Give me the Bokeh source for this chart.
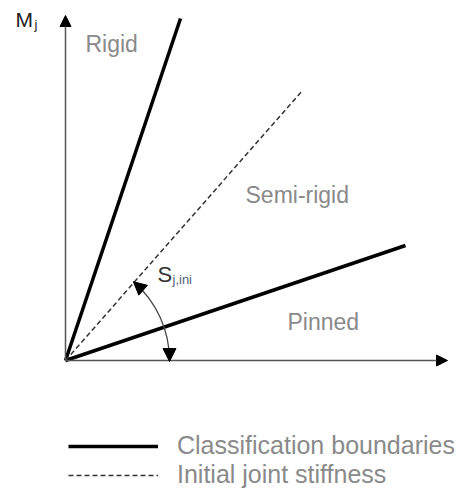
from bokeh.plotting import figure
from bokeh.models import (Arrow, NormalHead, Label, Legend, LegendItem, Range1d)
from bokeh.embed import file_html
from bokeh.resources import INLINE
import math

# ---- data (rotation phi, moment M_j) in drawing units ----
boundary_names = ["Rigid", "Pinned"]
boundary_phi = [115, 340]      # end of each classification boundary
boundary_M = [342, 115]
stiffness_phi = [0, 237]        # initial joint stiffness line
stiffness_M = [0, 270]
axis_phi_max = 382
axis_M_max = 345
arc_radius = 104
legend_labels = ["Classification boundaries", "Initial joint stiffness"]

W, H = 457, 491
p = figure(width=W, height=H, output_backend="svg", toolbar_location=None,
           x_axis_type=None, y_axis_type=None,
           x_range=Range1d(-65, -65 + W), y_range=Range1d(360 - H, 360),
           min_border=0, outline_line_color=None)
p.grid.visible = False
p.background_fill_color = "white"

FONT = "Liberation Sans"

# axes with arrowheads
p.add_layout(Arrow(x_start=0, y_start=0, x_end=0, y_end=axis_M_max,
                   line_color="#555555", line_width=1.5,
                   end=NormalHead(size=11, fill_color="black", line_color="black")))
p.add_layout(Arrow(x_start=0, y_start=0, x_end=axis_phi_max, y_end=0,
                   line_color="#555555", line_width=1.5,
                   end=NormalHead(size=11, fill_color="black", line_color="black")))

# classification boundaries
r_rigid = p.line([0, boundary_phi[0]], [0, boundary_M[0]], line_color="black", line_width=3.5)
r_pinned = p.line([0, boundary_phi[1]], [0, boundary_M[1]], line_color="black", line_width=3.5)
# initial stiffness
r_ini = p.line(stiffness_phi, stiffness_M, line_color="#333333", line_width=1.5, line_dash="5 3")

# angle arc
ang = math.atan2(stiffness_M[1], stiffness_phi[1])
p.arc(x=[0], y=[0], radius=arc_radius, start_angle=0, end_angle=ang,
      line_color="#444444", line_width=1.3)
ux, uy = arc_radius * math.cos(ang), arc_radius * math.sin(ang)
tx, ty = -math.sin(ang), math.cos(ang)
p.add_layout(Arrow(x_start=ux - tx * 10, y_start=uy - ty * 10, x_end=ux + tx * 1, y_end=uy + ty * 1,
                   line_alpha=0,
                   end=NormalHead(size=13, fill_color="black", line_color="black")))
p.add_layout(Arrow(x_start=arc_radius, y_start=12, x_end=arc_radius, y_end=-1,
                   line_alpha=0,
                   end=NormalHead(size=13, fill_color="black", line_color="black")))

# texts
def lab(x, y, t, size, color):
    p.add_layout(Label(x=x, y=y, text=t, text_font=FONT, text_font_size=size,
                       text_color=color, text_baseline="alphabetic"))

lab(-50, 341, "M", "21px", "#222222")
lab(-31, 336, "j", "13px", "#222222")
lab(20, 317, "Rigid", "23px", "#8a8a8a")
lab(180, 166, "Semi-rigid", "23px", "#8a8a8a")
lab(222, 39, "Pinned", "23px", "#8a8a8a")
lab(92, 86, "S", "22px", "#333333")
lab(107, 81, "j,ini", "13px", "#55607a")

legend = Legend(items=[LegendItem(label=legend_labels[0], renderers=[r_rigid]),
                       LegendItem(label=legend_labels[1], renderers=[r_ini])],
                location=(68, 2), orientation="vertical",
                glyph_width=90, glyph_height=24, label_height=24, spacing=0,
                padding=0, margin=0, label_standoff=19,
                label_text_font=FONT, label_text_font_size="25px",
                label_text_color="#8a8a8a",
                border_line_color=None, background_fill_alpha=0)
p.add_layout(legend)

open("out.html", "w").write(file_html(p, INLINE))
